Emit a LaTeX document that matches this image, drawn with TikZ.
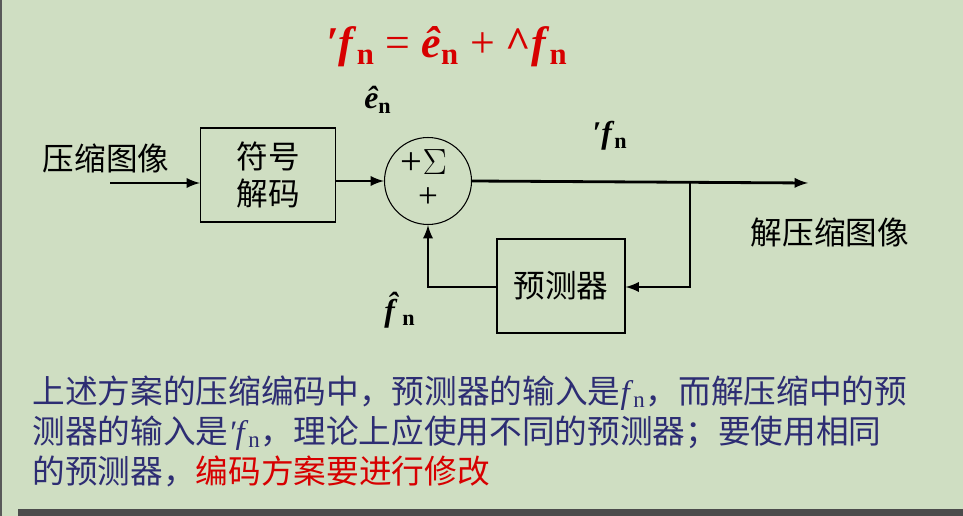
\documentclass[tikz,border=0pt]{standalone}
\usepackage{fontspec}
\setmainfont{Liberation Serif}
\newfontfamily\cjk{Noto Sans CJK SC}
\usetikzlibrary{arrows}
\definecolor{bg}{RGB}{207,222,194}
\definecolor{ink}{RGB}{45,45,115}
\definecolor{hot}{RGB}{215,0,0}
\tikzset{
  blk/.style={draw,fill=none,line width=0.6pt,font=\cjk\fontsize{18}{21}\selectfont,align=center},
  sumnode/.style={draw,shape=circle,line width=0.6pt,minimum size=1.74cm,inner sep=0pt},
  lbl/.style={font=\cjk\fontsize{18}{21}\selectfont},
  sym/.style={font=\fontsize{18}{21}\selectfont\bfseries},
  sig/.style={line width=1.6pt,->,>=latex}
}
\begin{document}
\begin{tikzpicture}[x=0.02cm,y=-0.02cm]

% Background and frame
    \fill[bg] (0,0) rectangle (963,516);
    \useasboundingbox (0,0) rectangle (963,516);
    \draw[gray!70!black,line width=1pt] (1,0) -- (1,516);
    \fill[gray!60!black] (18,509) rectangle (963,516);

% Formula
    \node[text=hot,font=\fontsize{25}{28}\selectfont\bfseries] (eq) at (447,47)
        {\textit{\char"2032f}\textsubscript{n} {\mdseries=} \textit{ê}\textsubscript{n} {\mdseries+} \textasciicircum\textit{f}\textsubscript{n}};

% Draw blocks, inputs and outputs
    \node[lbl] (in) at (106,158) {压缩图像};
    \node[blk,minimum width=2.7cm,minimum height=1.88cm] (dec) at (268,175) {符号\\解码};
    \node[sumnode] (sum) at (428,181) {};
    \node[font=\fontsize{22}{24}\selectfont] (sg) at (424,162) {+$\Sigma$};
    \node[font=\fontsize{20}{22}\selectfont] (pl) at (428,198) {+};
    \node[blk,minimum width=2.56cm,minimum height=1.88cm] (pred) at (561,286) {预测器};
    \node[lbl] (out) at (830,232) {解压缩图像};
    \coordinate (end) at (808,183);
    \coordinate (tap) at (690,183);
    \coordinate (bend) at (432,287);
    \coordinate (src) at (110,183);

% Signal labels
    \node[sym] (en) at (378,100) {\textit{ê}\textsubscript{n}};
    \node[sym] (fo) at (610,136) {\textit{\char"2032f}\textsubscript{n}};
    \node[sym] (fh) at (400,310) {\textit{f̂}\textsubscript{n}};

    % join up
    \draw[sig] (src) -- (dec.west |- src);
    \draw[sig] (dec.east |- sum.west) -- (sum.west);
    \draw[sig] (sum.east) -- (end);
    \draw[sig] (tap) |- (pred.east |- bend);
    \draw[sig] (pred.west |- bend) -| (sum.south);

% Comment text
    \begin{scope}[every node/.style={anchor=west,inner sep=0pt,font=\cjk\fontsize{18.6}{22}\selectfont,text=ink}]
    \node (t1) at (32,393) {上述方案的压缩编码中，预测器的输入是{\rmfamily\textit{f}\textsubscript{n}}，而解压缩中的预};
    \node (t2) at (32,433) {测器的输入是{\rmfamily\textit{\char"2032f}\textsubscript{n}}，理论上应使用不同的预测器；要使用相同};
    \node (t3) at (32,471) {的预测器，\textcolor{hot}{编码方案要进行修改}};
    \end{scope}

\end{tikzpicture}
\end{document}
